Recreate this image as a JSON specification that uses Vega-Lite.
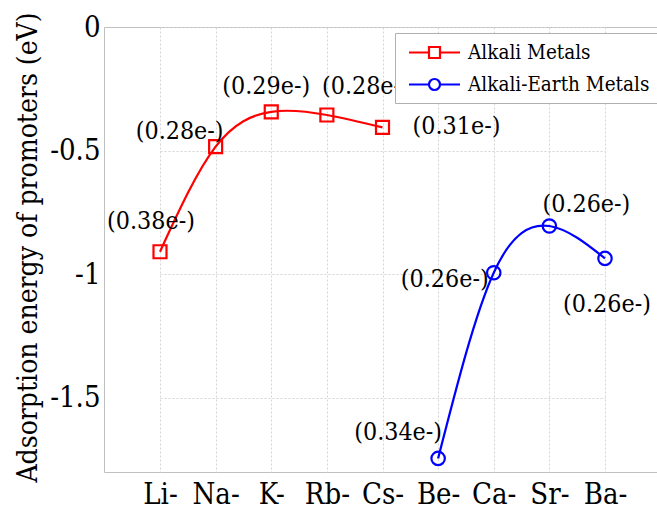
{
  "$schema": "https://vega.github.io/schema/vega-lite/v6.json",
  "autosize": {"type": "none"},
  "padding": {"left": 104, "top": 27, "right": 0, "bottom": 34},
  "width": 553,
  "height": 445,
  "background": "white",
  "config": {
    "font": "DejaVu Serif Condensed, DejaVu Serif",
    "view": {"stroke": "#c0c0c0", "strokeWidth": 1},
    "axis": {
      "domain": false,
      "ticks": false,
      "tickSize": 0,
      "grid": true,
      "gridColor": "#d4d4d4",
      "gridDash": [2, 2],
      "gridWidth": 1,
      "labelFont": "DejaVu Serif Condensed, DejaVu Serif",
      "labelColor": "#000000",
      "titleFont": "DejaVu Serif Condensed, DejaVu Serif",
      "titleColor": "#000000",
      "titleFontWeight": "normal"
    },
    "legend": {
      "labelFont": "DejaVu Serif Condensed, DejaVu Serif",
      "labelFontSize": 20.5,
      "labelLimit": 400,
      "labelColor": "#000000",
      "strokeColor": "#b0b0b0",
      "fillColor": "#ffffff",
      "padding": 8,
      "rowPadding": 10,
      "symbolSize": 400,
      "symbolOffset": 20,
      "symbolStrokeWidth": 2.2,
      "labelOffset": 22
    }
  },
  "data": {
    "values": [
      {"el": "Li-", "series": "Alkali Metals", "energy": -0.909, "charge": "(0.38e-)"},
      {"el": "Na-", "series": "Alkali Metals", "energy": -0.484, "charge": "(0.28e-)"},
      {"el": "K-", "series": "Alkali Metals", "energy": -0.343, "charge": "(0.29e-)"},
      {"el": "Rb-", "series": "Alkali Metals", "energy": -0.356, "charge": "(0.28e-)"},
      {"el": "Cs-", "series": "Alkali Metals", "energy": -0.406, "charge": "(0.31e-)"},
      {"el": "Be-", "series": "Alkali-Earth Metals", "energy": -1.745, "charge": "(0.34e-)"},
      {"el": "Ca-", "series": "Alkali-Earth Metals", "energy": -0.994, "charge": "(0.26e-)"},
      {"el": "Sr-", "series": "Alkali-Earth Metals", "energy": -0.805, "charge": "(0.26e-)"},
      {"el": "Ba-", "series": "Alkali-Earth Metals", "energy": -0.936, "charge": "(0.26e-)"}
    ]
  },
  "encoding": {
    "x": {
      "field": "el",
      "type": "ordinal",
      "sort": null,
      "scale": {"type": "point", "domain": ["Li-", "Na-", "K-", "Rb-", "Cs-", "Be-", "Ca-", "Sr-", "Ba-"], "range": [56, 501], "padding": 0},
      "axis": {"title": null, "labelAngle": 0, "labelFontSize": 29, "labelPadding": 31, "labelBaseline": "alphabetic"}
    },
    "y": {
      "field": "energy",
      "type": "quantitative",
      "scale": {"domain": [-1.8, 0], "nice": false, "zero": false},
      "axis": {
        "title": "Adsorption energy of promoters (eV)",
        "titleFontSize": 28,
        "titleX": -68,
        "titleY": 220,
        "titleBaseline": "alphabetic",
        "values": [0, -0.5, -1, -1.5],
        "labelExpr": "'' + datum.value",
        "labelFontSize": 29,
        "labelPadding": 4
      }
    }
  },
  "layer": [
    {
      "mark": {"type": "line", "interpolate": "natural", "strokeWidth": 2.2},
      "encoding": {
        "color": {"field": "series", "type": "nominal", "scale": {"domain": ["Alkali Metals", "Alkali-Earth Metals"], "range": ["#ff0000", "#0000ff"]},
          "legend": {"title": null, "orient": "none", "legendX": 291, "legendY": 6, "direction": "vertical"}}
      }
    },
    {
      "transform": [{"filter": "datum.series === 'Alkali Metals'"}],
      "mark": {"type": "point", "shape": "square", "filled": false, "size": 169, "strokeWidth": 2.2, "color": "#ff0000", "opacity": 1},
      "encoding": {}
    },
    {
      "transform": [{"filter": "datum.series === 'Alkali-Earth Metals'"}],
      "mark": {"type": "point", "shape": "circle", "filled": false, "size": 180, "strokeWidth": 2.2, "color": "#0000ff", "opacity": 1},
      "encoding": {}
    },
    {
      "transform": [{"filter": "false"}],
      "mark": {"type": "point", "filled": false, "strokeWidth": 2.2, "opacity": 1},
      "encoding": {
        "color": {"field": "series", "type": "nominal", "scale": {"domain": ["Alkali Metals", "Alkali-Earth Metals"], "range": ["#ff0000", "#0000ff"]},
          "legend": {"title": null, "orient": "none", "legendX": 291, "legendY": 6, "direction": "vertical"}},
        "shape": {"field": "series", "type": "nominal",
          "scale": {"domain": ["Alkali Metals", "Alkali-Earth Metals"], "range": ["M-2.55,0H-0.55M0.55,0H2.55M-0.55,-0.55H0.55V0.55H-0.55Z", "M-2.55,0H-0.55M0.55,0H2.55M0.55,0A0.55,0.55 0 1,1 -0.55,0A0.55,0.55 0 1,1 0.55,0Z"]},
          "legend": {"title": null, "orient": "none", "legendX": 291, "legendY": 6, "direction": "vertical"}
        }
      }
    },
    {"transform": [{"filter": "datum.el === 'Li-'"}], "mark": {"type": "text", "fontSize": 24.8, "color": "#000000", "dx": -9, "dy": -30}, "encoding": {"text": {"field": "charge"}}},
    {"transform": [{"filter": "datum.el === 'Na-'"}], "mark": {"type": "text", "fontSize": 24.8, "color": "#000000", "dx": -36, "dy": -15}, "encoding": {"text": {"field": "charge"}}},
    {"transform": [{"filter": "datum.el === 'K-'"}], "mark": {"type": "text", "fontSize": 24.8, "color": "#000000", "dx": -5, "dy": -25}, "encoding": {"text": {"field": "charge"}}},
    {"transform": [{"filter": "datum.el === 'Rb-'"}], "mark": {"type": "text", "fontSize": 24.8, "color": "#000000", "dx": 39, "dy": -28}, "encoding": {"text": {"field": "charge"}}},
    {"transform": [{"filter": "datum.el === 'Cs-'"}], "mark": {"type": "text", "fontSize": 24.8, "color": "#000000", "dx": 74, "dy": 0}, "encoding": {"text": {"field": "charge"}}},
    {"transform": [{"filter": "datum.el === 'Be-'"}], "mark": {"type": "text", "fontSize": 24.8, "color": "#000000", "dx": -40, "dy": -25}, "encoding": {"text": {"field": "charge"}}},
    {"transform": [{"filter": "datum.el === 'Ca-'"}], "mark": {"type": "text", "fontSize": 24.8, "color": "#000000", "dx": -49, "dy": 7}, "encoding": {"text": {"field": "charge"}}},
    {"transform": [{"filter": "datum.el === 'Sr-'"}], "mark": {"type": "text", "fontSize": 24.8, "color": "#000000", "dx": 37, "dy": -21}, "encoding": {"text": {"field": "charge"}}},
    {"transform": [{"filter": "datum.el === 'Ba-'"}], "mark": {"type": "text", "fontSize": 24.8, "color": "#000000", "dx": 2, "dy": 47}, "encoding": {"text": {"field": "charge"}}}
  ]
}
